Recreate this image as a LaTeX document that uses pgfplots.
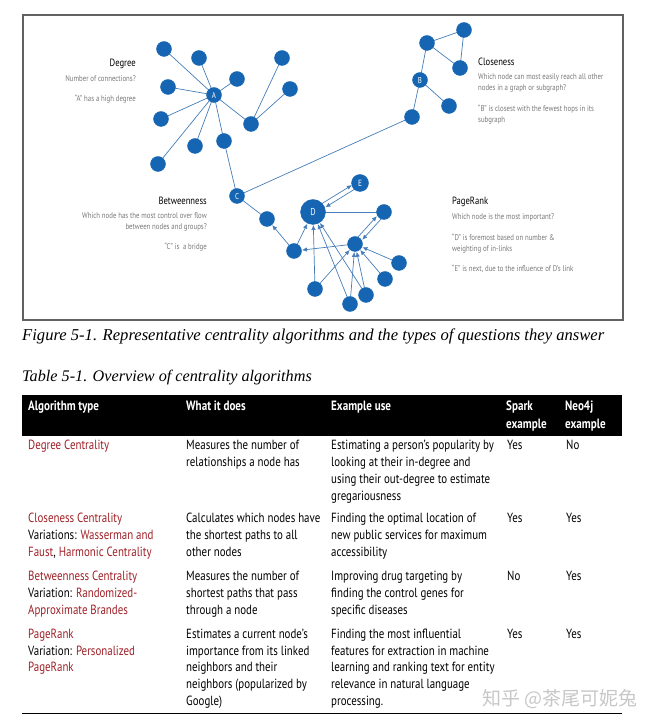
\documentclass[border=0pt]{standalone}
\usepackage{fontspec}
\usepackage{pgfplots}
\pgfplotsset{compat=1.18}
\usetikzlibrary{arrows.meta}
\setmainfont{PT Sans}[FakeStretch=0.82]
\newfontfamily\capfont{Liberation Serif}
\newfontfamily\cjkfont{Noto Sans CJK SC}
\definecolor{nodeblue}{RGB}{21,101,178}
\definecolor{edgeblue}{RGB}{70,125,185}
\definecolor{algred}{RGB}{158,32,38}
\definecolor{txtgray}{RGB}{120,120,120}
\newcommand{\fs}[1]{\fontsize{#1bp}{#1bp}\selectfont}
\begin{document}
\begin{tikzpicture}[
  lab/.style={inner sep=0pt,anchor=base west},
  labr/.style={inner sep=0pt,anchor=base east}]
\begin{axis}[width=659bp,height=727bp,scale only axis,set layers,
  xmin=0,xmax=659,ymin=0,ymax=727,y dir=reverse,hide axis,clip=false,
  edge/.style={edgeblue,line width=0.7bp,no marks},
  arr/.style={edge,-{Latex[length=5bp,width=4.5bp]},shorten >=8bp},
  arrD/.style={edge,-{Latex[length=5bp,width=4.5bp]},shorten >=13bp},
]
\path (axis cs:0,0) rectangle (axis cs:659,727);
% frame
\draw[line width=1.3bp,black!62] (axis cs:23,15) rectangle (axis cs:623,320);
% ---- Degree cluster edges
\addplot[edge] coordinates {(214,95) (164,49)};
\addplot[edge] coordinates {(214,95) (199,58)};
\addplot[edge] coordinates {(214,95) (237,79)};
\addplot[edge] coordinates {(214,95) (168,87)};
\addplot[edge] coordinates {(214,95) (161,119)};
\addplot[edge] coordinates {(214,95) (158,164)};
\addplot[edge] coordinates {(214,95) (195,146)};
\addplot[edge] coordinates {(214,95) (224,141)};
\addplot[edge] coordinates {(214,95) (251,124)};
\addplot[edge] coordinates {(251,124) (282,58)};
\addplot[edge] coordinates {(251,124) (290,89)};
\addplot[edge] coordinates {(224,141) (237,196)};
% ---- Closeness cluster edges
\addplot[edge] coordinates {(427,43) (464,30)};
\addplot[edge] coordinates {(427,43) (460,68)};
\addplot[edge] coordinates {(464,30) (460,68)};
\addplot[edge] coordinates {(427,43) (420,80)};
\addplot[edge] coordinates {(420,80) (449,106)};
\addplot[edge] coordinates {(420,80) (412,117)};
\addplot[edge] coordinates {(412,117) (237,196)};
% ---- PageRank cluster edges
\addplot[edge] coordinates {(237,196) (267,219)};
\addplot[arr] coordinates {(294,251) (267,219)};
\addplot[arrD] coordinates {(294,251) (313,212)};
\addplot[arr] coordinates {(311.7,209.9) (358.7,180.9)};
\addplot[arrD] coordinates {(361.3,185.1) (314.3,214.1)};
\addplot[edge] coordinates {(313,212) (384,212)};
\addplot[arr] coordinates {(353.2,242.3) (382.2,210.3)};
\addplot[arr] coordinates {(385.9,213.7) (356.9,245.7)};
\addplot[arr] coordinates {(355,244) (294,251)};
\addplot[arrD] coordinates {(315,289) (313,212)};
\addplot[arr] coordinates {(315,289) (355,244)};
\addplot[arrD] coordinates {(350,304) (313,212)};
\addplot[arr] coordinates {(350,304) (355,244)};
\addplot[arrD] coordinates {(366,295) (313,212)};
\addplot[arr] coordinates {(366,295) (355,244)};
\addplot[arr] coordinates {(385,279) (355,244)};
\addplot[arr] coordinates {(399,263) (355,244)};
% ---- nodes
\addplot[only marks,mark=*,mark size=7.5bp,color=nodeblue,mark options={fill=nodeblue,draw=nodeblue}] coordinates {
(214,95) (164,49) (199,58) (237,79) (168,87) (161,119) (158,164) (195,146) (224,141) (251,124) (282,58) (290,89)
(427,43) (464,30) (460,68) (420,80) (449,106) (412,117)
(237,196) (267,219) (294,251) (384,212) (355,244) (315,289) (350,304) (366,295) (385,279) (399,263)
};
\addplot[only marks,mark=*,mark size=8.5bp,color=nodeblue,mark options={fill=nodeblue,draw=nodeblue}] coordinates {(360,183)};
\addplot[only marks,mark=*,mark size=12.5bp,color=nodeblue,mark options={fill=nodeblue,draw=nodeblue}] coordinates {(313,212)};
\begin{pgfonlayer}{axis foreground}
\node[white,font=\fs{8.5}] at (axis cs:214,95.5) {A};
\node[white,font=\fs{8.5}] at (axis cs:420,80.5) {B};
\node[white,font=\fs{8.5}] at (axis cs:237,196.5) {C};
\node[white,font=\fs{10}] at (axis cs:313,212.5) {D};
\node[white,font=\fs{9}] at (axis cs:360,183.5) {E};
\end{pgfonlayer}
% ---- diagram texts
\node[labr,font=\fs{10.5}] at (axis cs:136,67) {Degree};
\node[labr,font=\fs{8.3},text=txtgray] at (axis cs:136,82) {Number of connections?};
\node[labr,font=\fs{8.3},text=txtgray] at (axis cs:136,102) {“A” has a high degree};
\node[labr,font=\fs{10.5}] at (axis cs:207,205) {Betweenness};
\node[labr,font=\fs{8.3},text=txtgray] at (axis cs:207,218.5) {Which node has the most control over flow};
\node[labr,font=\fs{8.3},text=txtgray] at (axis cs:207,229.5) {between nodes and groups?};
\node[labr,font=\fs{8.3},text=txtgray] at (axis cs:207,249.5) {“C” is \ a bridge};
\node[lab,font=\fs{10.5}] at (axis cs:478,66) {Closeness};
\node[lab,font=\fs{8.3},text=txtgray] at (axis cs:478,80) {Which node can most easily reach all other};
\node[lab,font=\fs{8.3},text=txtgray] at (axis cs:478,91) {nodes in a graph or subgraph?};
\node[lab,font=\fs{8.3},text=txtgray] at (axis cs:478,111.5) {“B” is closest with the fewest hops in its};
\node[lab,font=\fs{8.3},text=txtgray] at (axis cs:478,122.5) {subgraph};
\node[lab,font=\fs{10.5}] at (axis cs:452,205) {PageRank};
\node[lab,font=\fs{8.3},text=txtgray] at (axis cs:452,220) {Which node is the most important?};
\node[lab,font=\fs{8.3},text=txtgray] at (axis cs:452,241) {“D” is foremost based on number \&};
\node[lab,font=\fs{8.3},text=txtgray] at (axis cs:452,252) {weighting of in-links};
\node[lab,font=\fs{8.3},text=txtgray] at (axis cs:452,272) {“E” is next, due to the influence of D’s link};
% ---- captions
\node[lab,font=\capfont\itshape\fs{16.6}] at (axis cs:22,341) {Figure 5-1. Representative centrality algorithms and the types of questions they answer};
\node[lab,font=\capfont\itshape\fs{16.2}] at (axis cs:22,382) {Table 5-1. Overview of centrality algorithms};
% ---- table header
\fill[black] (axis cs:22,395) rectangle (axis cs:622,436);
\node[lab,font=\bfseries\fs{13.5},text=white] at (axis cs:28,411) {Algorithm type};
\node[lab,font=\bfseries\fs{13.5},text=white] at (axis cs:186,411) {What it does};
\node[lab,font=\bfseries\fs{13.5},text=white] at (axis cs:331,411) {Example use};
\node[lab,font=\bfseries\fs{13.5},text=white] at (axis cs:506,411) {Spark};
\node[lab,font=\bfseries\fs{13.5},text=white] at (axis cs:506,428.5) {example};
\node[lab,font=\bfseries\fs{13.5},text=white] at (axis cs:565,411) {Neo4j};
\node[lab,font=\bfseries\fs{13.5},text=white] at (axis cs:565,428.5) {example};
% ---- row 1
\begin{scope}[every node/.append style={font=\fs{13.3}}]
\node[lab,text=algred] at (axis cs:28,450) {Degree Centrality};
\node[lab] at (axis cs:186,450) {Measures the number of};
\node[lab] at (axis cs:186,466.7) {relationships a node has};
\node[lab] at (axis cs:331,450) {Estimating a person’s popularity by};
\node[lab] at (axis cs:331,466.7) {looking at their in-degree and};
\node[lab] at (axis cs:331,483.4) {using their out-degree to estimate};
\node[lab] at (axis cs:331,500.1) {gregariousness};
\node[lab] at (axis cs:507,450) {Yes};
\node[lab] at (axis cs:566,450) {No};
% ---- row 2
\node[lab,text=algred] at (axis cs:28,523) {Closeness Centrality};
\node[lab] at (axis cs:28,539.7) {Variations: \textcolor{algred}{Wasserman and}};
\node[lab] at (axis cs:28,556.4) {\textcolor{algred}{Faust}, \textcolor{algred}{Harmonic Centrality}};
\node[lab] at (axis cs:186,523) {Calculates which nodes have};
\node[lab] at (axis cs:186,539.7) {the shortest paths to all};
\node[lab] at (axis cs:186,556.4) {other nodes};
\node[lab] at (axis cs:331,523) {Finding the optimal location of};
\node[lab] at (axis cs:331,539.7) {new public services for maximum};
\node[lab] at (axis cs:331,556.4) {accessibility};
\node[lab] at (axis cs:507,523) {Yes};
\node[lab] at (axis cs:566,523) {Yes};
% ---- row 3
\node[lab,text=algred] at (axis cs:28,581) {Betweenness Centrality};
\node[lab] at (axis cs:28,597.7) {Variation: \textcolor{algred}{Randomized-}};
\node[lab,text=algred] at (axis cs:28,614.4) {Approximate Brandes};
\node[lab] at (axis cs:186,581) {Measures the number of};
\node[lab] at (axis cs:186,597.7) {shortest paths that pass};
\node[lab] at (axis cs:186,614.4) {through a node};
\node[lab] at (axis cs:331,581) {Improving drug targeting by};
\node[lab] at (axis cs:331,597.7) {finding the control genes for};
\node[lab] at (axis cs:331,614.4) {specific diseases};
\node[lab] at (axis cs:507,581) {No};
\node[lab] at (axis cs:566,581) {Yes};
% ---- row 4
\node[lab,text=algred] at (axis cs:28,638.5) {PageRank};
\node[lab] at (axis cs:28,655.2) {Variation: \textcolor{algred}{Personalized}};
\node[lab,text=algred] at (axis cs:28,671.9) {PageRank};
\node[lab] at (axis cs:186,638.5) {Estimates a current node’s};
\node[lab] at (axis cs:186,655.2) {importance from its linked};
\node[lab] at (axis cs:186,671.9) {neighbors and their};
\node[lab] at (axis cs:186,688.6) {neighbors (popularized by};
\node[lab] at (axis cs:186,705.3) {Google)};
\node[lab] at (axis cs:331,638.5) {Finding the most influential};
\node[lab] at (axis cs:331,655.2) {features for extraction in machine};
\node[lab] at (axis cs:331,671.9) {learning and ranking text for entity};
\node[lab] at (axis cs:331,688.6) {relevance in natural language};
\node[lab] at (axis cs:331,705.3) {processing.};
\node[lab] at (axis cs:507,638.5) {Yes};
\node[lab] at (axis cs:566,638.5) {Yes};
\end{scope}
\draw[line width=0.8bp,black] (axis cs:22,713) -- (axis cs:622,713);
\node[lab,font=\cjkfont\fs{19},text=black!22] at (axis cs:482,705) {知乎 @茶尾可妮兔};
\end{axis}
\end{tikzpicture}
\end{document}
